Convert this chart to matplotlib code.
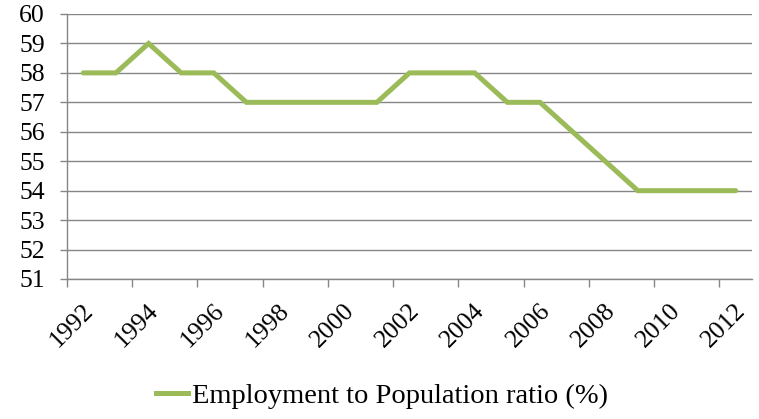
import matplotlib.pyplot as plt
import matplotlib.transforms as mtransforms
from matplotlib.lines import Line2D

years = list(range(1992, 2013))
ratio = [58, 58, 59, 58, 58, 57, 57, 57, 57, 57, 58, 58, 58, 57, 57, 56, 55, 54, 54, 54, 54]
tick_labels = [str(y) for y in years[::2]]

plt.rcParams['font.family'] = ['Liberation Serif', 'DejaVu Serif']

fig = plt.figure(figsize=(7.59, 4.19), dpi=100)
ax = fig.add_axes([67 / 759, 1 - 279 / 419, (752 - 67) / 759, (279 - 14) / 419])

x = list(range(len(years)))
ax.plot(x, ratio, color='#9BBB59', lw=3.6, solid_capstyle='round', solid_joinstyle='miter')

ax.set_xlim(-0.5, len(years) - 0.5)
ax.set_ylim(51, 60)
ax.set_yticks(range(51, 61))
ax.tick_params(axis='y', labelsize=18.5, length=5, color='#868686', width=1, pad=11)

# labels sit on category centres, tick marks on every other category boundary
ax.set_xticks(x[::2])
ax.set_xticklabels(tick_labels, rotation=45, ha='right', va='top', rotation_mode='anchor')
ax.tick_params(axis='x', which='major', length=0, labelsize=18.5, pad=15)
shift = mtransforms.ScaledTranslation(-1 / 100, 0, fig.dpi_scale_trans)
for lbl in ax.get_xticklabels():
    lbl.set_transform(lbl.get_transform() + shift)
ax.set_xticks([i - 0.5 for i in x[::2]], minor=True)
ax.tick_params(axis='x', which='minor', length=6, color='#868686', width=1)

ax.grid(axis='y', color='#868686', lw=1)
ax.set_axisbelow(True)
for side in ['top', 'right']:
    ax.spines[side].set_visible(False)
for side in ['left', 'bottom']:
    ax.spines[side].set_color('#868686')
    ax.spines[side].set_linewidth(1)

handle = Line2D([], [], color='#9BBB59', lw=3.6)
fig.legend([handle], ['Employment to Population ratio (%)'], loc='center',
           bbox_to_anchor=(382 / 759, 1 - 396 / 419), frameon=False, fontsize=20.5,
           handlelength=1.1, handletextpad=0.15)

fig.savefig('out.png', dpi=100)
